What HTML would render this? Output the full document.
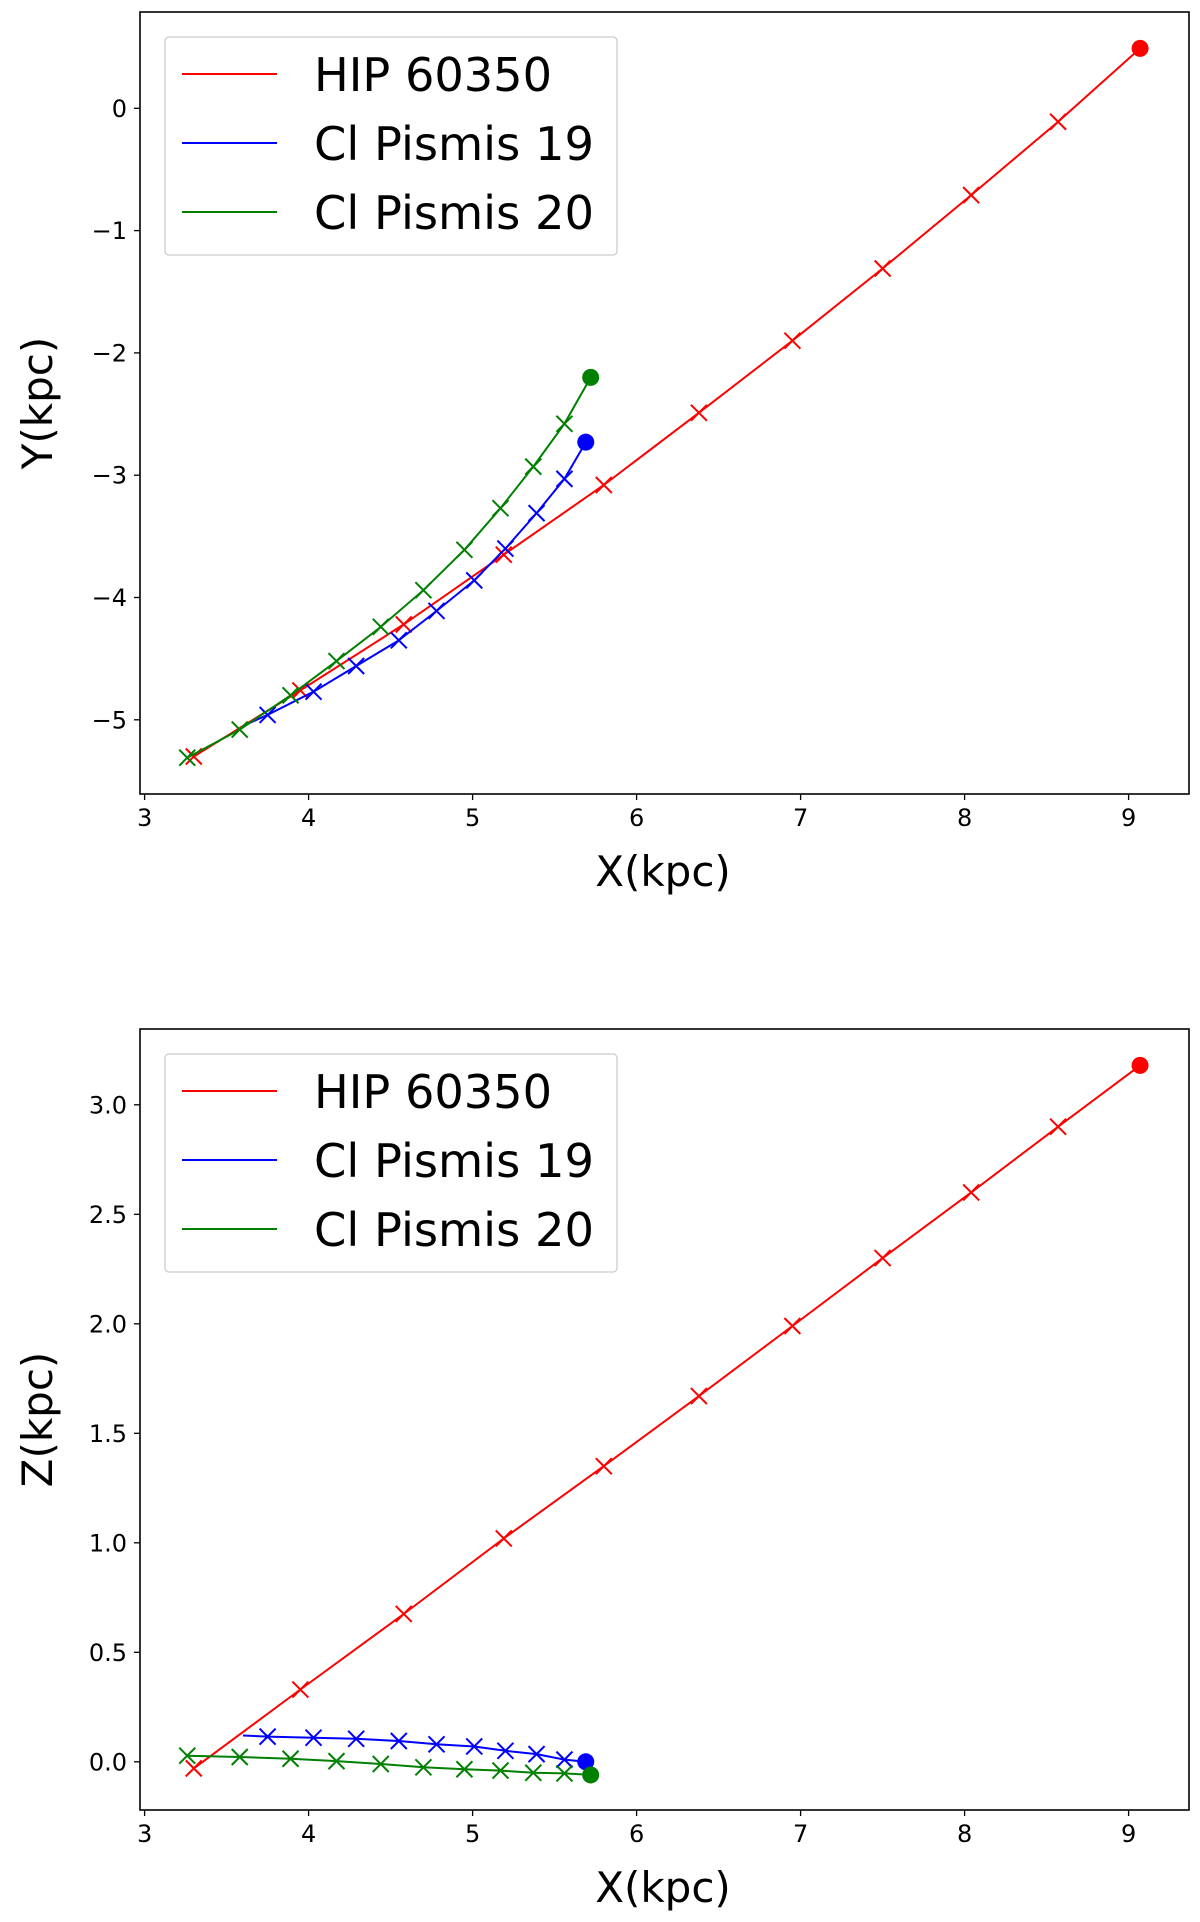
<!DOCTYPE html>
<html><head><meta charset="utf-8"><style>
html,body{margin:0;padding:0;background:#fff}
svg text{font-family:"DejaVu Sans","Liberation Sans",sans-serif}
</style></head><body>
<svg id="fig" width="1200" height="1917" viewBox="0 0 1200 1917" xmlns="http://www.w3.org/2000/svg"></svg>
<script>
const seriesNames = ["HIP 60350", "Cl Pismis 19", "Cl Pismis 20"];
const seriesColors = ["#ff0000", "#0000ff", "#008000"];
const hipX = [9.07, 8.57, 8.04, 7.50, 6.95, 6.38, 5.80, 5.19, 4.58, 3.95, 3.30];
const hipY = [0.49, -0.11, -0.71, -1.31, -1.90, -2.49, -3.08, -3.65, -4.22, -4.76, -5.30];
const hipZ = [3.18, 2.90, 2.60, 2.30, 1.99, 1.67, 1.35, 1.02, 0.675, 0.33, -0.03];
const p19X = [5.69, 5.56, 5.39, 5.20, 5.01, 4.78, 4.55, 4.29, 4.03, 3.75, 3.60];
const p19Y = [-2.73, -3.03, -3.31, -3.60, -3.86, -4.11, -4.35, -4.56, -4.77, -4.96, -5.05];
const p19Z = [0.00, 0.01, 0.035, 0.05, 0.07, 0.08, 0.095, 0.105, 0.11, 0.115, 0.12];
const p19Marked = [1,1,1,1,1,1,1,1,1,1,0];
const p20X = [5.72, 5.56, 5.37, 5.17, 4.95, 4.70, 4.44, 4.17, 3.89, 3.58, 3.26];
const p20Y = [-2.20, -2.58, -2.93, -3.27, -3.61, -3.94, -4.24, -4.52, -4.80, -5.08, -5.31];
const p20Z = [-0.06, -0.053, -0.05, -0.04, -0.034, -0.025, -0.01, 0.003, 0.014, 0.022, 0.028];
const xTicks = [3, 4, 5, 6, 7, 8, 9];
const yTicksTop = [0, -1, -2, -3, -4, -5];
const yTicksBottom = [0.0, 0.5, 1.0, 1.5, 2.0, 2.5, 3.0];

const NS = "http://www.w3.org/2000/svg";
const svg = document.getElementById("fig");
function el(tag, attrs, parent) {
  const e = document.createElementNS(NS, tag);
  for (const k in attrs) e.setAttribute(k, attrs[k]);
  (parent || svg).appendChild(e);
  return e;
}

function panel(cfg) {
  const g = el("g", {});
  
  
  const sx = v => 144.6 + (v - 3) * 164.0;
  const sy = v => cfg.y0 + (v - cfg.v0) * cfg.pxPer;
  const frame = el("rect", {x: 140, y: cfg.top, width: 1049, height: cfg.bottom - cfg.top, fill: "none", stroke: "#000", "stroke-width": 1.6}, g);
  
  
  xTicks.forEach(t => {
    const x = sx(t);
    el("line", {x1: x, x2: x, y1: cfg.bottom, y2: cfg.bottom + 6, stroke: "#000", "stroke-width": 1.3}, g);
    const tx = el("text", {x: x, y: cfg.bottom + 32, "font-size": 24, "text-anchor": "middle", fill: "#000"}, g);
    tx.textContent = t;
    
    
  });
  cfg.yTicks.forEach(t => {
    const y = sy(t);
    el("line", {x1: 140, x2: 134, y1: y, y2: y, stroke: "#000", "stroke-width": 1.3}, g);
    const tx = el("text", {x: 127, y: y + 8.5, "font-size": 24, "text-anchor": "end", fill: "#000"}, g);
    tx.textContent = cfg.fmt(t);
    
    
  });
  const xl = el("text", {x: 663, y: cfg.bottom + 92, "font-size": 42, "text-anchor": "middle", fill: "#000"}, g);
  xl.textContent = "X(kpc)";
  
  
  const yc = (cfg.top + cfg.bottom) / 2;
  const yl = el("text", {x: 0, y: 0, "font-size": 42, "text-anchor": "middle", fill: "#000", transform: `translate(52,${yc}) rotate(-90)`}, g);
  yl.textContent = cfg.ylabel;
  
  

  cfg.series.forEach((s, i) => {
    const col = seriesColors[i];
    const pts = s.xs.map((v, j) => sx(v).toFixed(1) + "," + sy(s.ys[j]).toFixed(1)).join(" ");
    const line = el("polyline", {points: pts, fill: "none", stroke: col, "stroke-width": 2}, g);
    
    
    s.xs.forEach((v, j) => {
      const cx = sx(v), cy = sy(s.ys[j]);
      if (j === 0) {
        const c = el("circle", {cx: cx, cy: cy, r: 8.5, fill: col}, g);
        
        
      } else if (!s.marked || s.marked[j]) {
        const d = 8;
        const m = el("path", {d: `M${cx-d},${cy-d}L${cx+d},${cy+d}M${cx-d},${cy+d}L${cx+d},${cy-d}`, stroke: col, "stroke-width": 2, fill: "none"}, g);
        
        
      }
    });
  });

  const lg = el("g", {}, g);
  
  
  el("rect", {x: 165, y: cfg.legTop, width: 452, height: 218, rx: 4, fill: "#fff", "fill-opacity": 0.8, stroke: "#ccc", "stroke-width": 1.3}, lg);
  seriesNames.forEach((n, i) => {
    const ry = cfg.legTop + 37 + i * 69;
    const entry = el("g", {}, lg);
    
    
    el("line", {x1: 182, x2: 277, y1: ry, y2: ry, stroke: seriesColors[i], "stroke-width": 2}, entry);
    const t = el("text", {x: 314, y: ry + 17, "font-size": 46.5, fill: "#000", textLength: 280 - (i === 0 ? 42 : 0), lengthAdjust: "spacingAndGlyphs"}, entry);
    t.textContent = n;
  });
}

panel({name: "xy-panel", top: 12, bottom: 794, y0: 108.3, v0: 0, pxPer: -122.3,
  yTicks: yTicksTop, fmt: t => t < 0 ? "\u2212" + Math.abs(t) : String(t), ylabel: "Y(kpc)", legTop: 37,
  series: [{xs: hipX, ys: hipY}, {xs: p19X, ys: p19Y, marked: p19Marked}, {xs: p20X, ys: p20Y}]});
panel({name: "xz-panel", top: 1029, bottom: 1810, y0: 1761.8, v0: 0, pxPer: -219,
  yTicks: yTicksBottom, fmt: t => t.toFixed(1), ylabel: "Z(kpc)", legTop: 1054,
  series: [{xs: hipX, ys: hipZ}, {xs: p19X, ys: p19Z, marked: p19Marked}, {xs: p20X, ys: p20Z}]});
</script>
</body></html>
